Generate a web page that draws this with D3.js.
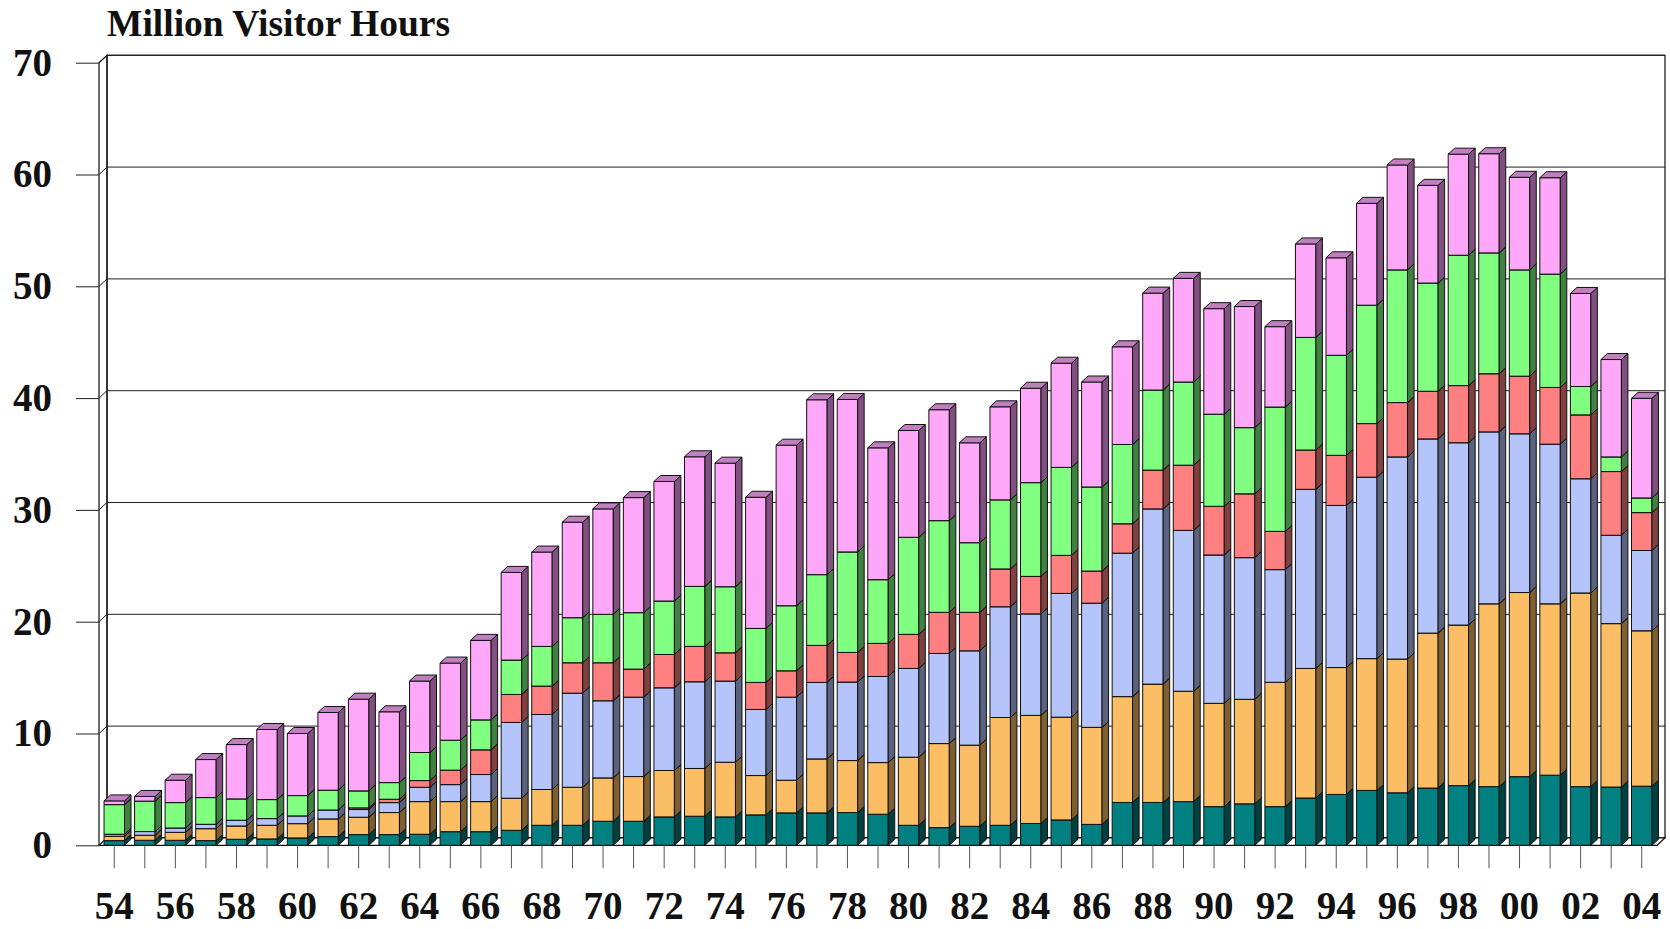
<!DOCTYPE html>
<html>
<head>
<meta charset="utf-8">
<script src="https://cdn.jsdelivr.net/npm/d3@7"></script>
<style>
  body { margin: 0; background: #fff; }
  svg text { font-family: "Liberation Serif", "Times New Roman", serif; font-weight: bold; fill: #111; }
</style>
</head>
<body>
<div id="display"></div>
<script>
var years = ["54","55","56","57","58","59","60","61","62","63","64","65","66","67","68","69",
  "70","71","72","73","74","75","76","77","78","79","80","81","82","83","84","85","86","87",
  "88","89","90","91","92","93","94","95","96","97","98","99","00","01","02","03","04"]

// stacked series, bottom to top
var teal   = [0.42,0.45,0.45,0.42,0.54,0.57,0.66,0.78,0.96,0.96,0.99,1.22,1.22,1.34,1.79,1.79,
  2.15,2.15,2.54,2.6,2.54,2.72,2.9,2.9,2.93,2.78,1.79,1.58,1.7,1.79,1.95,2.27,1.87,3.83,
  3.83,3.91,3.46,3.71,3.46,4.23,4.55,4.91,4.7,5.12,5.34,5.25,6.14,6.27,5.25,5.21,5.29]
var orange = [0.39,0.45,0.71,1.07,1.19,1.22,1.28,1.58,1.55,1.97,2.92,2.69,2.69,2.87,3.2,3.4,
  3.88,4.0,4.15,4.27,4.89,3.52,2.92,4.83,4.65,4.62,6.09,7.52,7.26,9.64,9.67,9.19,8.68,9.47,
  10.59,9.87,9.24,9.35,11.12,11.59,11.35,11.79,11.96,13.86,14.36,16.35,16.47,15.33,17.32,14.62,13.9]
var blue   = [0.18,0.33,0.39,0.39,0.51,0.6,0.69,0.8,0.69,0.89,1.28,1.52,2.42,6.78,6.71,8.42,
  6.9,7.1,7.4,7.76,7.26,5.91,7.43,6.84,7.02,7.7,7.94,8.06,8.44,9.91,9.08,11.07,11.11,12.83,
  15.67,14.39,13.27,12.67,10.08,16.02,14.5,16.23,18.08,17.37,16.31,15.38,14.2,14.28,10.22,7.9,7.18]
var red    = [0,0,0,0,0,0,0,0,0.15,0.3,0.6,1.29,2.21,2.5,2.54,2.72,
  3.4,2.51,2.98,3.16,2.53,2.42,2.36,3.31,2.65,2.96,3.05,3.68,3.44,3.38,3.35,3.4,2.87,2.63,
  3.47,5.83,4.35,5.71,3.42,3.52,4.48,4.79,4.86,4.26,5.11,5.2,5.15,5.07,5.71,5.7,3.39]
var green  = [2.65,2.72,2.27,2.39,1.91,1.7,1.82,1.77,1.52,1.49,2.51,2.68,2.68,3.08,3.55,4.03,
  4.33,5.05,4.78,5.37,5.91,4.83,5.82,6.33,8.99,5.7,8.68,8.2,6.23,6.18,8.39,7.87,7.52,7.09,
  7.16,7.44,8.24,5.92,11.12,10.07,8.95,10.59,11.87,9.68,11.66,10.81,9.51,10.14,2.54,1.31,1.31]
var pink   = [0.33,0.42,2.0,3.4,4.86,6.27,5.55,6.95,8.2,6.33,6.39,6.9,7.11,7.84,8.44,8.54,
  9.43,10.29,10.69,11.59,11.05,11.73,14.36,15.64,13.64,11.79,9.55,9.92,8.93,8.32,8.44,9.32,9.39,8.74,
  8.67,9.27,9.44,10.83,7.19,8.36,8.72,9.11,9.38,8.74,9.04,8.87,8.28,8.62,8.32,8.71,8.91]

var yTicks = [0, 10, 20, 30, 40, 50, 60, 70]
var title = "Million Visitor Hours"

var keys = ["teal", "orange", "blue", "red", "green", "pink"]
var faceColor = {teal:"#008080", orange:"#FCBE64", blue:"#B6C4FC", red:"#FF8080", green:"#80FF80", pink:"#FFA8FA"}
var topColor  = {teal:"#006060", orange:"#C08F4B", blue:"#8993BE", red:"#BF6060", green:"#60BF60", pink:"#C080C0"}
var sideColor = {teal:"#004040", orange:"#7E5F32", blue:"#5B627E", red:"#804040", green:"#408040", pink:"#805080"}

var series = {teal:teal, orange:orange, blue:blue, red:red, green:green, pink:pink}
var rows = years.map((yr, i) => {
  var r = {year: yr}
  keys.forEach(k => r[k] = series[k][i])
  return r
})

var width = 1670, height = 929;
var plot = {left: 99, right: 1657, top: 62.7, bottom: 845.3};
var depth = {dx: 8, dy: 7.4};       // wall / floor depth
var bar = {dx: 6.5, dy: 6};         // bar depth

x = d3.scaleBand()
    .domain(years)
    .range([plot.left, plot.right])
    .paddingInner(0.33)
    .paddingOuter(0.165)

y = d3.scaleLinear()
    .domain([0, 70])
    .range([plot.bottom, plot.top])

var svg = d3.select("#display")
        .append("svg")
        .attr("width", width)
        .attr("height", height);

svg.append("rect").attr("width", width).attr("height", height).attr("fill", "#fff");

// back wall
svg.append("rect")
    .attr("x", plot.left + depth.dx)
    .attr("y", plot.top - depth.dy)
    .attr("width", plot.right - plot.left)
    .attr("height", plot.bottom - plot.top)
    .attr("fill", "#fff")
    .attr("stroke", "#111")
    .attr("stroke-width", 1.2);

// gridlines on back wall + side wall
var grid = svg.append("g").attr("stroke", "#222").attr("stroke-width", 1).attr("fill", "none");
grid.selectAll("path")
    .data(yTicks.filter(d => d > 0))
    .join("path")
    .attr("d", d => "M" + plot.left + "," + y(d) + "L" + (plot.left + depth.dx) + "," + (y(d) - depth.dy) +
        "L" + (plot.right + depth.dx) + "," + (y(d) - depth.dy));

// left wall
svg.append("path")
    .attr("d", "M" + plot.left + "," + plot.bottom + "L" + plot.left + "," + plot.top +
        "L" + (plot.left + depth.dx) + "," + (plot.top - depth.dy) +
        "L" + (plot.left + depth.dx) + "," + (plot.bottom - depth.dy))
    .attr("fill", "none")
    .attr("stroke", "#111")
    .attr("stroke-width", 1.2);

// floor
svg.append("path")
    .attr("d", "M" + plot.left + "," + plot.bottom + "L" + plot.right + "," + plot.bottom +
        "L" + (plot.right + depth.dx) + "," + (plot.bottom - depth.dy) +
        "L" + (plot.left + depth.dx) + "," + (plot.bottom - depth.dy) + "Z")
    .attr("fill", "#fff")
    .attr("stroke", "#111")
    .attr("stroke-width", 1.2);

// stacked 3d bars
var stacked = d3.stack().keys(keys)(rows);
var segs = [];
years.forEach((yr, i) => {
  stacked.forEach(s => {
    if (s[i][1] - s[i][0] > 0) segs.push({year: yr, key: s.key, y0: s[i][0], y1: s[i][1]});
  });
});

var bw = x.bandwidth();
var bars = svg.append("g")
    .attr("stroke", "#111")
    .attr("stroke-width", 1)
    .attr("stroke-linejoin", "round");

var seg = bars.selectAll("g")
    .data(segs)
    .join("g");

seg.append("rect")
    .attr("x", d => x(d.year))
    .attr("y", d => y(d.y1))
    .attr("width", bw)
    .attr("height", d => y(d.y0) - y(d.y1))
    .attr("fill", d => faceColor[d.key]);

seg.append("path")
    .attr("d", d => {
      var x1 = x(d.year) + bw;
      return "M" + x1 + "," + y(d.y0) + "L" + x1 + "," + y(d.y1) +
        "L" + (x1 + bar.dx) + "," + (y(d.y1) - bar.dy) + "L" + (x1 + bar.dx) + "," + (y(d.y0) - bar.dy) + "Z";
    })
    .attr("fill", d => sideColor[d.key]);

seg.append("path")
    .attr("d", d => {
      var x0 = x(d.year), yt = y(d.y1);
      return "M" + x0 + "," + yt + "L" + (x0 + bw) + "," + yt +
        "L" + (x0 + bw + bar.dx) + "," + (yt - bar.dy) + "L" + (x0 + bar.dx) + "," + (yt - bar.dy) + "Z";
    })
    .attr("fill", d => topColor[d.key]);

// axes
var yAxis = d3.axisLeft(y)
    .tickValues(yTicks)
    .tickSize(23)
    .tickPadding(24)
    .tickFormat(d3.format("d"));

svg.append("g")
    .attr("transform", "translate(" + plot.left + ",0)")
    .call(yAxis)
    .call(g => g.select(".domain").remove())
    .call(g => g.selectAll("line").attr("stroke", "#222"))
    .call(g => g.selectAll("text").style("font-size", "39px").attr("fill", "#111")
        .style("font-family", "'Liberation Serif', 'Times New Roman', serif").style("font-weight", "bold"));

var xAxis = d3.axisBottom(x)
    .tickValues(years.filter((d, i) => i % 2 == 0))
    .tickSize(23)
    .tickPadding(23);

svg.append("g")
    .attr("transform", "translate(0," + plot.bottom + ")")
    .call(xAxis)
    .call(g => g.select(".domain").remove())
    .call(g => g.selectAll("line").attr("stroke", "#555"))
    .call(g => g.selectAll("text").style("font-size", "39px").attr("fill", "#111")
        .style("font-family", "'Liberation Serif', 'Times New Roman', serif").style("font-weight", "bold"));

// odd years also get a tick mark, no label
svg.append("g")
    .attr("stroke", "#555")
    .selectAll("line")
    .data(years.filter((d, i) => i % 2 == 1))
    .join("line")
    .attr("x1", d => x(d) + bw / 2)
    .attr("x2", d => x(d) + bw / 2)
    .attr("y1", plot.bottom)
    .attr("y2", plot.bottom + 23);

svg.append("text")
    .attr("x", plot.left + depth.dx)
    .attr("y", 36)
    .style("font-size", "37.5px")
    .text(title);
</script>
</body>
</html>
